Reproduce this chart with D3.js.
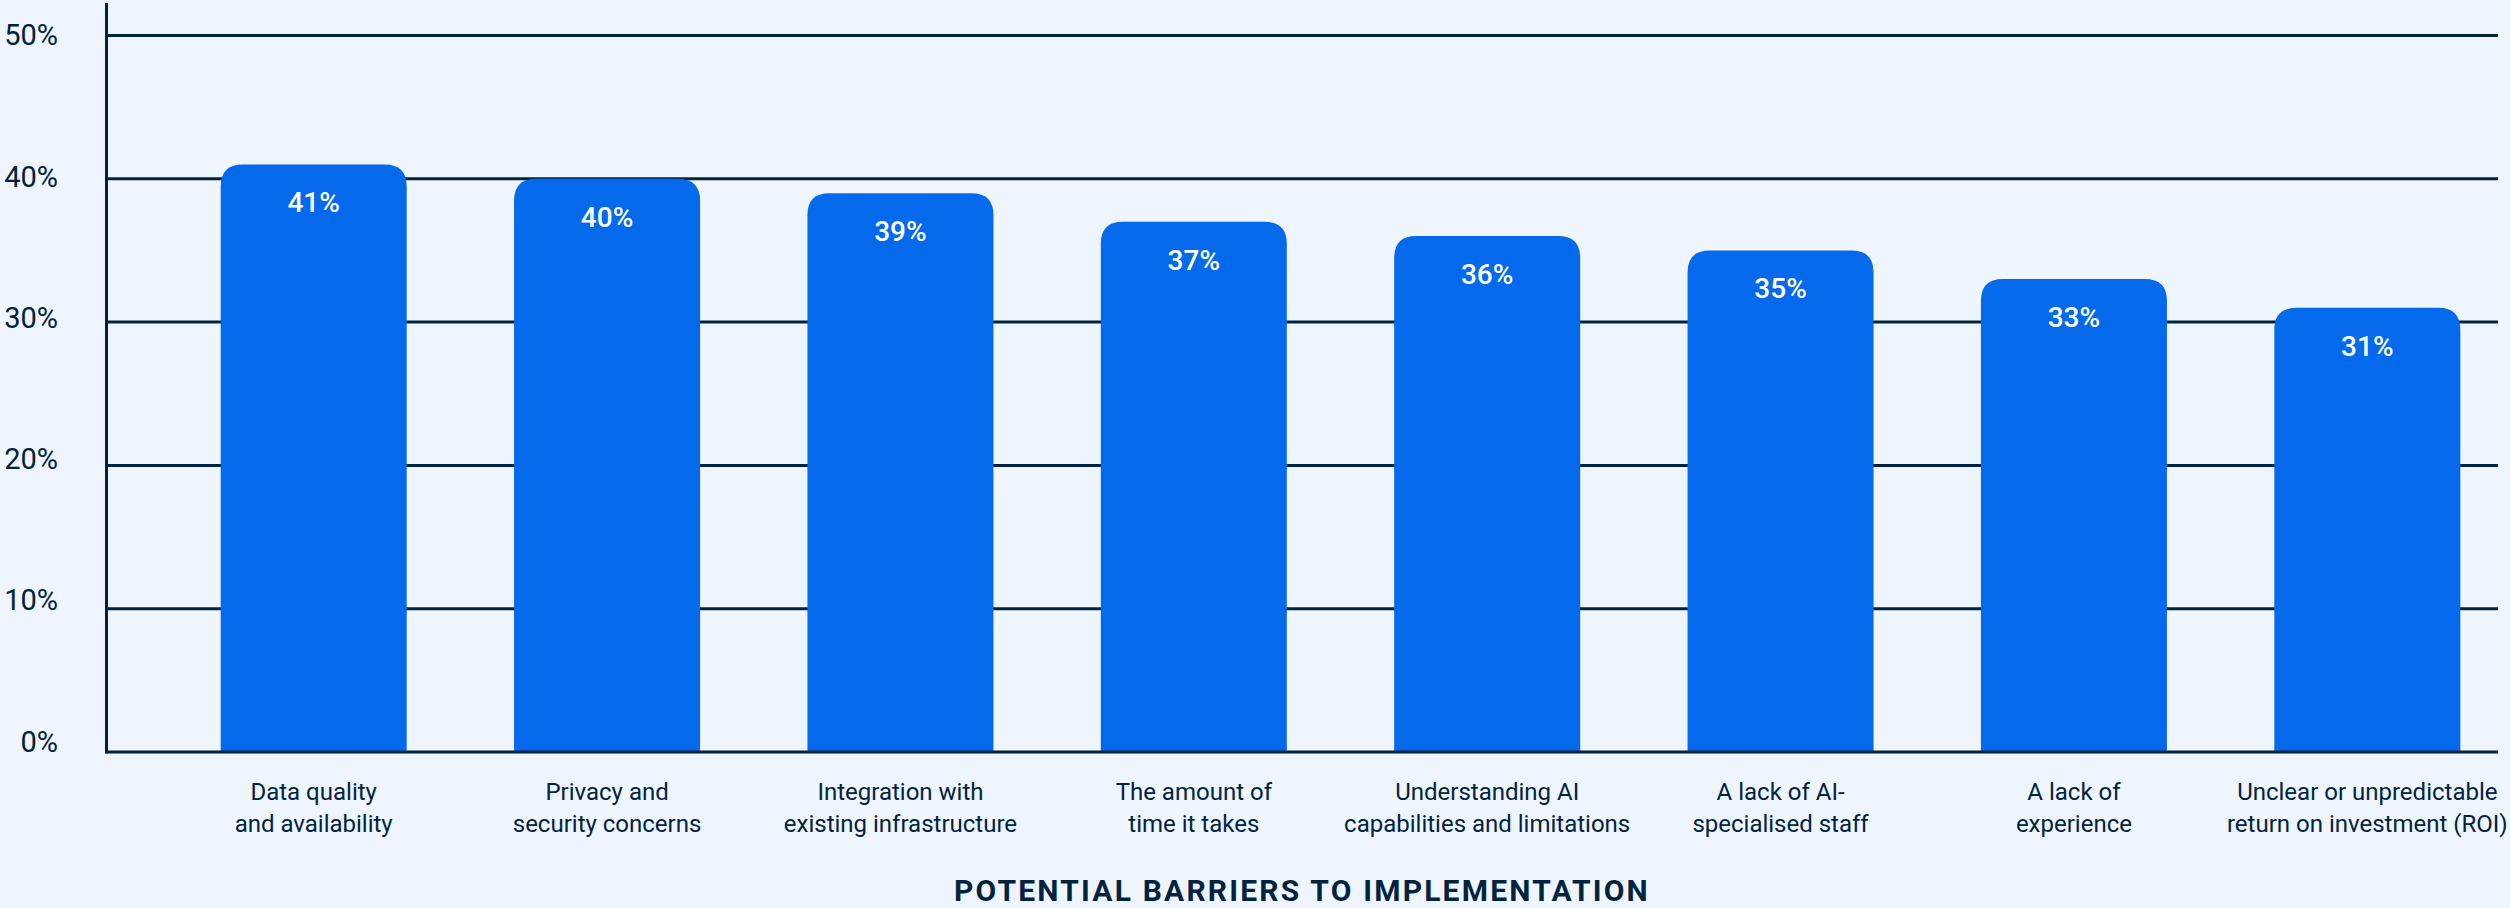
<!DOCTYPE html>
<html>
<head>
<meta charset="utf-8">
<script src="https://cdn.jsdelivr.net/npm/d3@7"></script>
<style>
  html, body { margin: 0; padding: 0; background: #EEF5FD; }
  svg { display: block; font-family: Roboto, "Noto Sans", sans-serif; }
</style>
</head>
<body>
<svg id="chart" width="2510" height="908"></svg>
<script>
// Share of respondents naming each barrier
const categories = [
  ["Data quality", "and availability"],
  ["Privacy and", "security concerns"],
  ["Integration with", "existing infrastructure"],
  ["The amount of", "time it takes"],
  ["Understanding AI", "capabilities and limitations"],
  ["A lack of AI-", "specialised staff"],
  ["A lack of", "experience"],
  ["Unclear or unpredictable", "return on investment (ROI)"]
];
const values = [41, 40, 39, 37, 36, 35, 33, 31];
const yTicks = [0, 10, 20, 30, 40, 50];
const yTickLabels = ["0%", "10%", "20%", "30%", "40%", "50%"];
const axisTitle = "POTENTIAL BARRIERS TO IMPLEMENTATION";

const ink = "#01233F";
const barColor = "#0469EA";

const svg = d3.select("#chart");
const keys = categories.map(c => c.join(" "));

const plotLeft = 106, plotRight = 2498;

const y = d3.scaleLinear().domain([0, 50]).range([752, 35.5]);
// tick labels sit on a slightly tighter spacing than the grid
const yLabel = d3.scaleLinear().domain([0, 50]).range([742, 35.5]);
const x = d3.scaleBand().domain(keys).range([167, 2514])
  .paddingInner(0.366).paddingOuter(0.183);

// horizontal grid
svg.append("g").selectAll("line")
  .data(yTicks.filter(t => t > 0))
  .join("line")
  .attr("x1", plotLeft).attr("x2", plotRight)
  .attr("y1", d => y(d)).attr("y2", d => y(d))
  .attr("stroke", ink).attr("stroke-width", 3);

// y tick labels
const yAxis = d3.axisLeft(yLabel)
  .tickValues(yTicks)
  .tickSize(0).tickPadding(3)
  .tickFormat((d, i) => yTickLabels[i]);
const gy = svg.append("g").attr("transform", "translate(61,0)").call(yAxis);
gy.select(".domain").remove();
gy.selectAll("text")
  .attr("fill", ink)
  .style("font-family", "Roboto, sans-serif")
  .style("font-size", "29px");

// bars with rounded top corners
const r = 22;
function barPath(x0, w, yTop, yBase) {
  return `M${x0},${yBase}V${yTop + r}Q${x0},${yTop} ${x0 + r},${yTop}` +
         `H${x0 + w - r}Q${x0 + w},${yTop} ${x0 + w},${yTop + r}V${yBase}Z`;
}
svg.append("g").selectAll("path")
  .data(values)
  .join("path")
  .attr("d", (v, i) => barPath(x(keys[i]), x.bandwidth(), y(v), y(0)))
  .attr("fill", barColor);

// value labels
svg.append("g").selectAll("text")
  .data(values)
  .join("text")
  .attr("x", (v, i) => x(keys[i]) + x.bandwidth() / 2)
  .attr("y", v => y(v) + 48)
  .attr("text-anchor", "middle")
  .attr("fill", "#ffffff")
  .style("font-size", "28px")
  .style("font-weight", 500)
  .text(v => v + "%");

// baseline and vertical axis
svg.append("line")
  .attr("x1", plotLeft).attr("x2", plotRight)
  .attr("y1", y(0)).attr("y2", y(0))
  .attr("stroke", ink).attr("stroke-width", 3);
svg.append("line")
  .attr("x1", plotLeft + 0.5).attr("x2", plotLeft + 0.5)
  .attr("y1", 3).attr("y2", y(0) + 1.5)
  .attr("stroke", ink).attr("stroke-width", 3);

// category labels
const cat = svg.append("g").selectAll("text")
  .data(categories)
  .join("text")
  .attr("x", (c, i) => x(keys[i]) + x.bandwidth() / 2)
  .attr("y", 800)
  .attr("text-anchor", "middle")
  .attr("fill", ink)
  .style("font-size", "24px");
cat.selectAll("tspan")
  .data(c => c)
  .join("tspan")
  .attr("x", function () { return d3.select(this.parentNode).attr("x"); })
  .attr("dy", (d, j) => j === 0 ? 0 : 31.7)
  .text(d => d);

// axis title
svg.append("text")
  .attr("x", (plotLeft + plotRight) / 2)
  .attr("y", 901)
  .attr("text-anchor", "middle")
  .attr("fill", ink)
  .style("font-size", "30px")
  .style("font-weight", 700)
  .style("letter-spacing", "2.2px")
  .text(axisTitle);
</script>
</body>
</html>
